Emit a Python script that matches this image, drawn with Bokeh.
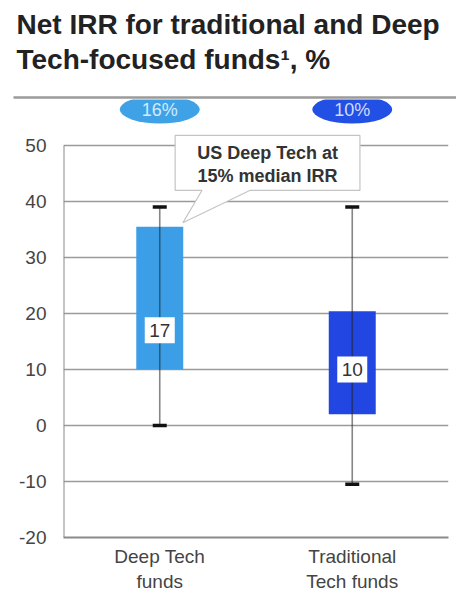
from bokeh.plotting import figure
from bokeh.models import Range1d, FixedTicker, ColumnDataSource
from bokeh.layouts import column, row
from bokeh.core.properties import value
from bokeh.embed import file_html
from bokeh.resources import INLINE

# ---- data ----
TITLE_LINES = ["Net IRR for traditional and Deep", "Tech-focused funds\u00b9, %"]
CATEGORIES = ["Deep Tech\nfunds", "Traditional\nTech funds"]
WHISKER_LOW = [0, -10.5]
WHISKER_HIGH = [39, 39]
Q1 = [10, 2]
Q3 = [35.5, 20.4]
MEDIAN = [17, 10]
MEDIAN_LABELS = ["17", "10"]
TOP_BADGES = ["16%", "10%"]
CALLOUT_LINES = ["US Deep Tech at", "15% median IRR"]
Y_TICKS = [-20, -10, 0, 10, 20, 30, 40, 50]

BOX_COLORS = ["#3C9EE6", "#2246E2"]
BADGE_COLORS = ["#3FA2E6", "#2350E4"]
BADGE_TEXT_COLORS = ["#D2EBFF", "#D0DCFF"]
FONT = "Liberation Sans"

# ---- header (title + rule) ----
HW, HH = 456, 99
head = figure(width=HW, height=HH, output_backend="svg", toolbar_location=None,
              x_range=Range1d(0, HW), y_range=Range1d(HH, 0),
              x_axis_location=None, y_axis_location=None, title=None,
              min_border=0, min_border_left=0, min_border_right=0,
              min_border_top=0, min_border_bottom=0)
head.grid.visible = False
head.outline_line_color = None
head.text(x=[16, 16], y=[24, 59], text=TITLE_LINES,
          text_font=value(FONT), text_font_style="bold", text_font_size="28px",
          text_color="#222222", text_baseline="alphabetic", text_align="left")
head.segment(x0=[13], y0=[97], x1=[HW], y1=[97], line_color="#9a9a9a", line_width=2.5)

# ---- main chart ----
W, H = 456, 511
BL, BR, BB = 63, 8, 73
frame_h = H - BB
px_per_unit = 5.6
y_end = Y_TICKS[0] + frame_h / px_per_unit

p = figure(width=W, height=H, output_backend="svg", toolbar_location=None,
           x_range=Range1d(0, 2), y_range=Range1d(Y_TICKS[0], y_end),
           min_border_left=BL, min_border_right=BR, min_border_top=0,
           min_border_bottom=BB)
p.outline_line_color = None
p.xgrid.visible = False
p.ygrid.ticker = FixedTicker(ticks=Y_TICKS)
p.ygrid.grid_line_color = "#9a9a9a"
p.ygrid.grid_line_width = 1.5

xs = [i + 0.5 for i in range(len(CATEGORIES))]

p.yaxis.ticker = FixedTicker(ticks=Y_TICKS)
p.yaxis.major_label_overrides = {t: str(t) for t in Y_TICKS}
p.yaxis.axis_line_color = None
p.yaxis.major_tick_line_color = None
p.yaxis.minor_tick_line_color = None
p.yaxis.major_label_standoff = 11
p.yaxis.major_label_text_font = FONT
p.yaxis.major_label_text_font_size = "19px"
p.yaxis.major_label_text_color = "#444444"

p.xaxis.ticker = FixedTicker(ticks=xs)
p.xaxis.major_label_overrides = {x: c for x, c in zip(xs, CATEGORIES)}
p.xaxis.axis_line_color = "#8a8a8a"
p.xaxis.axis_line_width = 2
p.xaxis.major_tick_line_color = None
p.xaxis.minor_tick_line_color = None
p.xaxis.major_label_standoff = 2
p.xaxis.major_label_text_font = FONT
p.xaxis.major_label_text_font_size = "19px"
p.xaxis.major_label_text_color = "#444444"

# left axis line only up to the top tick
p.segment(x0=[0], y0=[Y_TICKS[0]], x1=[0], y1=[Y_TICKS[-1]],
          line_color="#8a8a8a", line_width=2)

src = ColumnDataSource(dict(x=xs, lo=WHISKER_LOW, hi=WHISKER_HIGH, q1=Q1, q3=Q3,
                            med=MEDIAN, medlab=MEDIAN_LABELS, color=BOX_COLORS,
                            badge=TOP_BADGES, bcolor=BADGE_COLORS,
                            btext=BADGE_TEXT_COLORS))

p.vbar(x="x", width=0.244, bottom="q1", top="q3", fill_color="color",
       line_color=None, source=src)
p.segment(x0="x", y0="lo", x1="x", y1="hi", line_color="#222222",
          line_alpha=0.55, line_width=1.6, source=src)
p.rect(x="x", y="hi", width=14, height=3.5, width_units="screen",
       height_units="screen", fill_color="#111111", line_color=None, source=src)
p.rect(x="x", y="lo", width=14, height=3.5, width_units="screen",
       height_units="screen", fill_color="#111111", line_color=None, source=src)

# median labels
p.rect(x="x", y="med", width=30, height=26, width_units="screen",
       height_units="screen", fill_color="white", line_color=None, source=src)
p.text(x="x", y="med", text="medlab", text_align="center", text_baseline="middle",
       text_font=value(FONT), text_font_size="19px", text_color="#333333",
       source=src)

# badges above
badge_y = Y_TICKS[-1] + (145 - 109) / px_per_unit
p.ellipse(x="x", y=badge_y, width=80, height=28, width_units="screen",
          height_units="screen", fill_color="bcolor", line_color=None, source=src)
p.text(x="x", y=badge_y, text="badge", text_align="center", text_baseline="middle",
       text_font=value(FONT), text_font_size="18px", text_color="btext", source=src)

# callout with tail pointing to the Deep Tech box
tip_x, tip_y = xs[0] + 0.12, Q3[0] + 0.7
bx0, bx1, by0, by1 = 0.58, 1.54, 42.0, 51.8
p.patch(x=[bx0, bx1, bx1, 0.97, tip_x, 0.72, bx0],
        y=[by1, by1, by0, by0, tip_y, by0, by0],
        fill_color="white", line_color="#c4c4c4", line_width=1.2)
cx = (bx0 + bx1) / 2
p.text(x=[cx, cx], y=[48.6, 44.6], text=CALLOUT_LINES, text_align="center",
       text_baseline="middle", text_font=value(FONT), text_font_style="bold",
       text_font_size="18px", text_color="#333333")

layout = column(row(head), p, spacing=0)
open("out.html", "w").write(file_html(layout, INLINE))
